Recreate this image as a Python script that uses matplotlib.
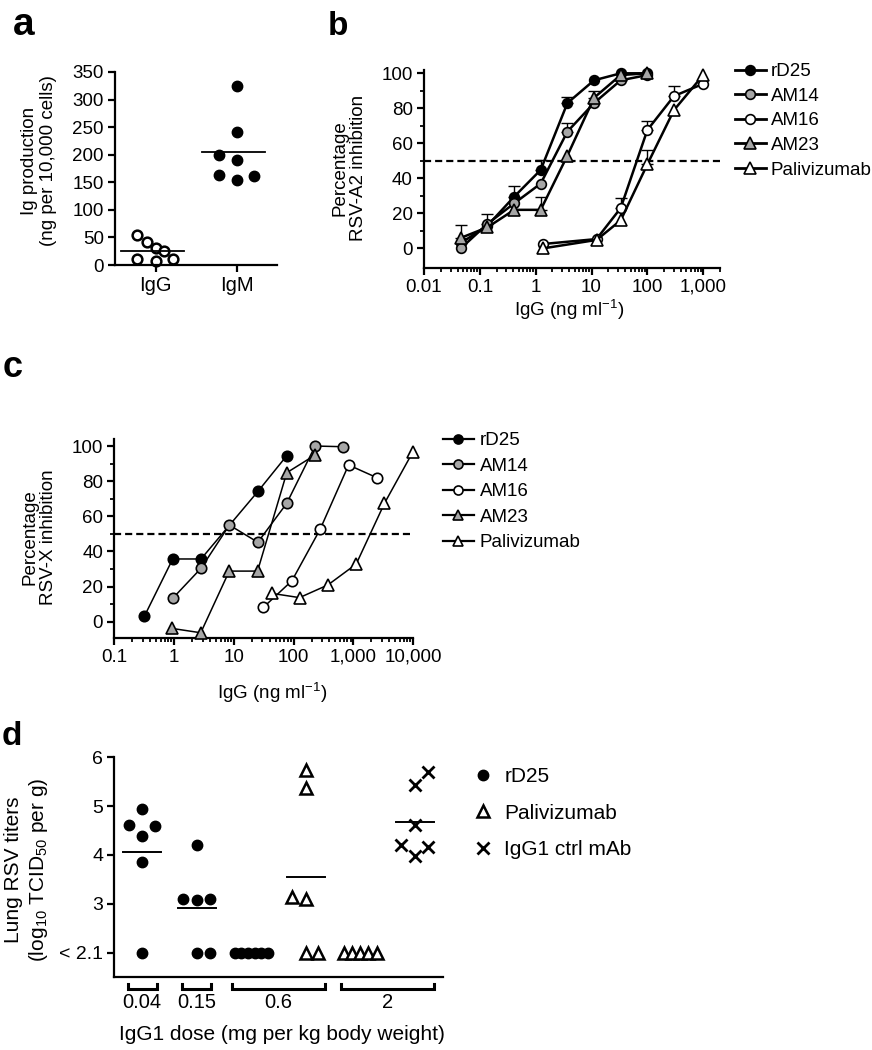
import matplotlib
matplotlib.use('Agg')
import matplotlib.pyplot as plt
import matplotlib.ticker as mtick
from matplotlib.lines import Line2D
import numpy as np

plt.rcParams['font.family'] = ['Liberation Sans', 'DejaVu Sans']
plt.rcParams['mathtext.fontset'] = 'custom'
plt.rcParams['mathtext.rm'] = 'Liberation Sans'
plt.rcParams['mathtext.it'] = 'Liberation Sans:italic'

# ---------------- data ----------------
# panel a: Ig production (ng per 10,000 cells)
a_cats = ['IgG', 'IgM']
a_igg = [55, 41, 30, 26, 10, 7, 10]
a_igg_dx = [-0.23, -0.10, 0.0, 0.10, -0.23, 0.0, 0.21]
a_igm = [324, 241, 200, 190, 163, 155, 161]
a_igm_dx = [0.0, 0.0, -0.21, 0.0, -0.21, 0.0, 0.22]
a_yticks = [0, 50, 100, 150, 200, 250, 300, 350]

# panel b: RSV-A2 inhibition (%), mean with upper SEM
b_conc_lo = [0.0457, 0.137, 0.412, 1.23, 3.70, 11.1, 33.3, 100]
b_conc_hi = [1.37, 12.3, 33.3, 100, 300, 1000]
b_rd25 = [3, 13, 29.5, 44.8, 83, 96, 100, 100]
b_rd25_err = [0, 0, 6.3, 5.7, 3.4, 0, 0, 0]
b_am14 = [0, 14, 25.7, 37, 66.7, 83, 96, 99]
b_am14_err = [0, 5.7, 0, 0, 4.7, 0, 0, 0]
b_am23 = [6, 12, 22, 22, 53, 86, 99, 100]
b_am23_err = [7.6, 0, 0, 7.6, 0, 4, 0, 0]
b_am16 = [2.5, 5.3, 23, 67.6, 87, 94]
b_am16_err = [0, 0, 5.6, 5.4, 6, 0]
b_pali = [0, 4.8, 16, 48, 79, 99]
b_pali_err = [0, 0, 0, 8, 0, 0]
b_xticks = [0.01, 0.1, 1, 10, 100, 1000]
b_xticklabels = ['0.01', '0.1', '1', '10', '100', '1,000']

# panel c: RSV-X inhibition (%)
c_rd25_x = [0.32, 0.95, 2.83, 25.7, 77]
c_rd25_y = [3.2, 35.7, 35.7, 74.4, 94.5]
c_am14_x = [0.95, 2.83, 8.45, 25.3, 77, 230, 686]
c_am14_y = [13.3, 30.4, 55, 45.2, 67.4, 100, 99.6]
c_am16_x = [31.4, 94, 279, 835, 2480]
c_am16_y = [8.2, 23.3, 52.6, 89.2, 82]
c_am23_x = [0.91, 2.8, 8.4, 25, 77, 230]
c_am23_y = [-3.8, -6.3, 28.8, 28.8, 84.8, 94.9]
c_pali_x = [43.7, 126, 376, 1120, 3330, 10000]
c_pali_y = [16.1, 13.7, 20.9, 32.8, 67.4, 96.8]
c_xticks = [0.1, 1, 10, 100, 1000, 10000]
c_xticklabels = ['0.1', '1', '10', '100', '1,000', '10,000']

series_names = ['rD25', 'AM14', 'AM16', 'AM23', 'Palivizumab']

# panel d: lung RSV titers (log10 TCID50 per g); 2.0 = below detection (< 2.1)
d_doses = ['0.04', '0.15', '0.6', '2']
d_col_antibody = ['rD25', 'rD25', 'rD25', 'Palivizumab', 'Palivizumab', 'IgG1 ctrl mAb']
d_col_dose = ['0.04', '0.15', '0.6', '0.6', '2', '2']
d_values = [
    [4.95, 4.61, 4.59, 4.39, 3.86, 2.0],
    [4.21, 3.10, 3.07, 3.10, 2.0, 2.0],
    [2.0, 2.0, 2.0, 2.0, 2.0, 2.0],
    [5.73, 5.37, 3.14, 3.10, 2.0, 2.0],
    [2.0, 2.0, 2.0, 2.0, 2.0],
    [5.69, 5.44, 4.61, 4.21, 4.17, 3.98],
]
d_jitter = [
    [0, -0.25, 0.24, 0, 0, 0],
    [0, -0.25, 0, 0.245, 0, 0.245],
    [-0.3, -0.18, -0.06, 0.06, 0.18, 0.3],
    [0, 0, -0.25, 0, 0, 0.23],
    [-0.3, -0.15, 0, 0.15, 0.3],
    [0.245, 0, 0, -0.245, 0.245, 0],
]
d_lod = 2.0
d_yticks = [2.0, 3, 4, 5, 6]
d_yticklabels = ['< 2.1', '3', '4', '5', '6']

# ---------------- figure ----------------
W, H = 872, 1050
fig = plt.figure(figsize=(W / 100, H / 100), dpi=100)


def rect(l, t, r, b):
    return [l / W, 1 - b / H, (r - l) / W, (b - t) / H]


def fx(x):
    return x / W


def fy(y):
    return 1 - y / H


SP = 1.6
TICK = 13.5
LAB = 13.5


def style_axes(ax):
    for s in ['top', 'right']:
        ax.spines[s].set_visible(False)
    for s in ['left', 'bottom']:
        ax.spines[s].set_linewidth(SP)
    ax.tick_params(which='major', direction='out', length=5, width=SP, labelsize=TICK, pad=3)
    ax.tick_params(which='minor', direction='out', length=3, width=SP * 0.8)


# ---------- a ----------
ax_a = fig.add_axes(rect(115, 72, 277, 265))
style_axes(ax_a)
ax_a.plot(np.zeros(len(a_igg)) + a_igg_dx, a_igg, 'o', ms=7, mfc='white', mec='black', mew=1.8, clip_on=False)
ax_a.plot(np.ones(len(a_igm)) + a_igm_dx, a_igm, 'o', ms=7.5, mfc='black', mec='black', clip_on=False)
for i, vals in enumerate([a_igg, a_igm]):
    ax_a.plot([i - 0.42, i + 0.35], [np.mean(vals)] * 2, color='black', lw=1.3)
ax_a.set_xlim(-0.5, 1.5)
ax_a.set_ylim(0, 350)
ax_a.set_xticks([0, 1])
ax_a.set_xticklabels(a_cats, fontsize=14.5)
ax_a.set_yticks(a_yticks)
fig.text(fx(39), fy(161), 'Ig production\n(ng per 10,000 cells)', rotation=90,
         ha='center', va='center', fontsize=LAB, linespacing=1.2)

# ---------- b ----------
ax_b = fig.add_axes(rect(424, 69.8, 720, 267.6))
style_axes(ax_b)
ax_b.set_xscale('log')
ax_b.set_xlim(0.01, 2000)
ax_b.set_ylim(-11, 102)
ax_b.axhline(50, color='black', lw=1.6, ls=(0, (3.2, 1.8)), zorder=1)

b_series = [
    (b_conc_lo, b_rd25, b_rd25_err, 'o', 'black'),
    (b_conc_lo, b_am14, b_am14_err, 'o', '#a6a6a6'),
    (b_conc_hi, b_am16, b_am16_err, 'o', 'white'),
    (b_conc_lo, b_am23, b_am23_err, '^', '#a6a6a6'),
    (b_conc_hi, b_pali, b_pali_err, '^', 'white'),
]
b_handles = []
for xs, ys, es, mk, fc in b_series:
    xs, ys, es = np.array(xs), np.array(ys), np.array(es)
    m = es > 0
    ax_b.errorbar(xs[m], ys[m], yerr=[np.zeros(m.sum()), es[m]], fmt='none',
                  ecolor='black', elinewidth=1.0, capsize=4, capthick=1.0, zorder=2)
    ms = 7 if mk == 'o' else 8
    ax_b.plot(xs, ys, '-', marker=mk, color='black', lw=1.8, ms=ms, mfc=fc, mec='black',
              mew=1.2, zorder=3, clip_on=False)
    b_handles.append(Line2D([], [], color='black', lw=2.0, marker=mk, ms=ms, mfc=fc,
                            mec='black', mew=1.2))
ax_b.set_xticks(b_xticks)
ax_b.set_xticklabels(b_xticklabels)
ax_b.xaxis.set_minor_locator(mtick.LogLocator(base=10, subs=np.arange(2, 10), numticks=20))
ax_b.xaxis.set_minor_formatter(mtick.NullFormatter())
ax_b.set_yticks([0, 20, 40, 60, 80, 100])
ax_b.yaxis.set_minor_locator(mtick.FixedLocator([10, 30, 50, 70, 90]))
fig.text(fx(349), fy(168), 'Percentage\nRSV-A2 inhibition', rotation=90,
         ha='center', va='center', fontsize=LAB, linespacing=1.1)
fig.text(fx(569), fy(310), r'IgG (ng ml$^{-1}$)', ha='center', va='center', fontsize=LAB)
ax_b.legend(b_handles, series_names, loc='upper left', bbox_to_anchor=(fx(735), fy(63)),
            bbox_transform=fig.transFigure, frameon=False, fontsize=13.5, handlelength=1.65,
            handletextpad=0.25, labelspacing=0.4, borderpad=0, borderaxespad=0)

# ---------- c ----------
ax_c = fig.add_axes(rect(114.3, 439, 413, 637.5))
style_axes(ax_c)
ax_c.set_xscale('log')
ax_c.set_xlim(0.1, 10000)
ax_c.set_ylim(-9, 104)
ax_c.axhline(50, color='black', lw=1.6, ls=(0, (3.2, 1.8)), zorder=1)
c_series = [
    (c_rd25_x, c_rd25_y, 'o', 'black'),
    (c_am14_x, c_am14_y, 'o', '#a6a6a6'),
    (c_am16_x, c_am16_y, 'o', 'white'),
    (c_am23_x, c_am23_y, '^', '#a6a6a6'),
    (c_pali_x, c_pali_y, '^', 'white'),
]
c_handles = []
for xs, ys, mk, fc in c_series:
    ms = 7.5 if mk == 'o' else 8.5
    ax_c.plot(xs, ys, '-', marker=mk, color='black', lw=1.1, ms=ms, mfc=fc, mec='black',
              mew=1.2, zorder=3, clip_on=False)
    c_handles.append(Line2D([], [], color='black', lw=1.6, marker=mk, ms=ms - 1, mfc=fc,
                            mec='black', mew=1.2))
ax_c.set_xticks(c_xticks)
ax_c.set_xticklabels(c_xticklabels)
ax_c.xaxis.set_minor_locator(mtick.LogLocator(base=10, subs=np.arange(2, 10), numticks=20))
ax_c.xaxis.set_minor_formatter(mtick.NullFormatter())
ax_c.set_yticks([0, 20, 40, 60, 80, 100])
ax_c.yaxis.set_minor_locator(mtick.FixedLocator([10, 30, 50, 70, 90]))
fig.text(fx(39), fy(537), 'Percentage\nRSV-X inhibition', rotation=90,
         ha='center', va='center', fontsize=LAB, linespacing=1.1)
fig.text(fx(272), fy(693), r'IgG (ng ml$^{-1}$)', ha='center', va='center', fontsize=LAB)
ax_c.legend(c_handles, series_names, loc='upper left', bbox_to_anchor=(fx(443), fy(432)),
            bbox_transform=fig.transFigure, frameon=False, fontsize=13.5, handlelength=1.65,
            handletextpad=0.3, labelspacing=0.45, borderpad=0, borderaxespad=0)

# ---------- d ----------
ax_d = fig.add_axes(rect(114.3, 757.3, 443, 977))
style_axes(ax_d)
ax_d.set_xlim(0.486, 6.52)
ax_d.set_ylim(1.5, 6)
d_style = {
    'rD25': dict(marker='o', ms=7.5, mfc='black', mec='black', mew=1),
    'Palivizumab': dict(marker='^', ms=8, mfc='white', mec='black', mew=1.8),
    'IgG1 ctrl mAb': dict(marker='x', ms=8, mec='black', mew=2),
}
for i, (vals, dx, ab) in enumerate(zip(d_values, d_jitter, d_col_antibody)):
    pos = i + 1
    ax_d.plot(pos + np.array(dx), vals, ls='none', clip_on=False, zorder=3, **d_style[ab])
    if max(vals) > d_lod:
        ax_d.plot([pos - 0.35, pos + 0.35], [np.mean(vals)] * 2, color='black', lw=1.4, zorder=2)
ax_d.set_xticks([])
ax_d.set_yticks(d_yticks)
ax_d.set_yticklabels(d_yticklabels)
ax_d.tick_params(axis='y', labelsize=14)

# dose brackets under the axis
for dose in d_doses:
    cols = [i + 1 for i, d in enumerate(d_col_dose) if d == dose]
    x0 = min(cols) - (0.27 if len(cols) == 1 else 0.35)
    x1 = max(cols) + (0.27 if len(cols) == 1 else 0.35)
    ax_d.plot([x0, x0, x1, x1], [1.36, 1.245, 1.245, 1.36], color='black', lw=2.2,
              clip_on=False, solid_joinstyle='miter')
    ax_d.text((x0 + x1) / 2, 0.98, dose, ha='center', va='center', fontsize=14.5)
fig.text(fx(282), fy(1035), 'IgG1 dose (mg per kg body weight)', ha='center', va='center', fontsize=15)
fig.text(fx(27), fy(870), 'Lung RSV titers\n(log$_{10}$ TCID$_{50}$ per g)', rotation=90,
         ha='center', va='center', fontsize=15, linespacing=1.2)

d_handles = [Line2D([], [], ls='none', **d_style[k]) for k in ['rD25', 'Palivizumab', 'IgG1 ctrl mAb']]
ax_d.legend(d_handles, ['rD25', 'Palivizumab', 'IgG1 ctrl mAb'], loc='upper left',
            bbox_to_anchor=(fx(474), fy(767)), bbox_transform=fig.transFigure, frameon=False,
            fontsize=15, handlelength=0.9, handletextpad=0.55, labelspacing=0.85,
            borderpad=0, borderaxespad=0)

# panel letters
for txt, x, y, size in [('a', 13, 35, 28), ('b', 328, 35, 24), ('c', 3, 377, 26), ('d', 2, 745, 24)]:
    fig.text(fx(x), fy(y), txt, fontsize=size, fontweight='bold', ha='left', va='baseline')

fig.savefig('out.png', dpi=100)
